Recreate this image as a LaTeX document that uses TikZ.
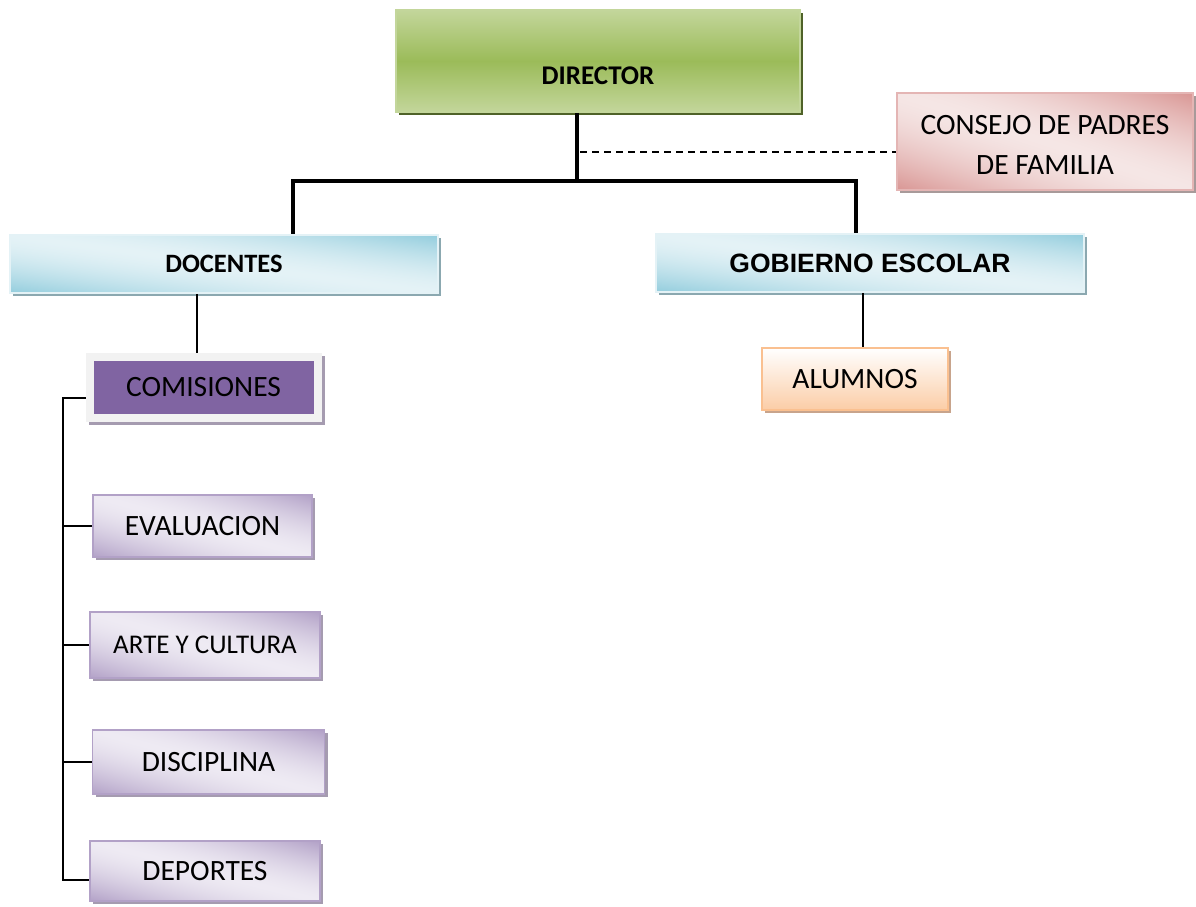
\documentclass[tikz,border=0pt]{standalone}
\usepackage{fontspec}
\setmainfont{Carlito}
\newfontfamily\arialfont{Liberation Sans}
\usetikzlibrary{shadows}
\definecolor{grnA}{HTML}{C3D69B}
\definecolor{grnB}{HTML}{9BBB59}
\definecolor{grnS}{HTML}{4F6228}
\definecolor{bluA}{HTML}{93CDDD}
\definecolor{bluB}{HTML}{E4F2F6}
\definecolor{bluS}{HTML}{8BA8B0}
\definecolor{pnkA}{HTML}{D99694}
\definecolor{pnkB}{HTML}{F5E6E5}
\definecolor{pnkS}{HTML}{A89A9A}
\definecolor{purA}{HTML}{B2A1C7}
\definecolor{purB}{HTML}{EEEAF3}
\definecolor{purS}{HTML}{A59BB0}
\definecolor{purD}{HTML}{8064A2}
\definecolor{frmG}{HTML}{F2F2F2}
\definecolor{pchA}{HTML}{FAC090}
\definecolor{pchS}{HTML}{C8A48C}
% diagonal shadings: dark at bottom-left and top-right corners, light along the other diagonal
\pgfdeclarefunctionalshading{blushade}{\pgfpoint{0bp}{0bp}}{\pgfpoint{100bp}{100bp}}{}{%
  add 100 sub abs 50 div dup 1 gt {pop 1} if 1.6 exp
  dup -0.318 mul 0.894 add exch dup -0.145 mul 0.949 add exch -0.098 mul 0.965 add}
\pgfdeclarefunctionalshading{pnkshade}{\pgfpoint{0bp}{0bp}}{\pgfpoint{100bp}{100bp}}{}{%
  add 100 sub abs 50 div dup 1 gt {pop 1} if 1.6 exp
  dup -0.110 mul 0.961 add exch dup -0.314 mul 0.902 add exch -0.318 mul 0.898 add}
\pgfdeclarefunctionalshading{purshade}{\pgfpoint{0bp}{0bp}}{\pgfpoint{100bp}{100bp}}{}{%
  add 100 sub abs 50 div dup 1 gt {pop 1} if 1.6 exp
  dup -0.235 mul 0.933 add exch dup -0.287 mul 0.918 add exch -0.173 mul 0.953 add}
\begin{document}
\begin{tikzpicture}[x=1pt,y=-1pt,
  base/.style={rectangle, inner sep=0pt, align=center, text=black},
  shad/.style={drop shadow={shadow xshift=3pt, shadow yshift=-3pt, opacity=1, fill=#1}},
  regtext/.style={font=\fontsize{29.5}{34}\selectfont},
  dirbox/.style={base, draw=grnA, line width=1.5pt, top color=grnA, bottom color=grnA, middle color=grnB, shad=grnS},
  bluebox/.style={base, draw=bluB, line width=1.5pt, shade, shading=blushade, shading angle=0, shad=bluS},
  pinkbox/.style={base, draw=pnkA!70, line width=1.5pt, shade, shading=pnkshade, shading angle=0, shad=pnkS},
  purbox/.style={base, draw=purA, line width=1.5pt, shade, shading=purshade, shading angle=0, shad=purS, regtext},
  pchbox/.style={base, draw=pchA, line width=2pt, top color=white, bottom color=pchA!80, shad=pchS, regtext},
  mainline/.style={line width=4pt},
  subline/.style={line width=2pt},
  dashline/.style={line width=1.6pt, dash pattern=on 7pt off 5pt}
]
\useasboundingbox[fill=white] (0,0) rectangle (1196,907);

% Nodes
\node[dirbox, minimum width=404pt, minimum height=102pt] (dir) at (598,61) {};
\node[base, font=\bfseries\fontsize{27}{31}\selectfont] (dirtext) at (598,76) {DIRECTOR};

\node[pinkbox, minimum width=296pt, minimum height=97pt] (cons) at (1045,141.5) {};
\node[base, font=\fontsize{29.5}{40}\selectfont] (constext) at (1045,145) {CONSEJO DE PADRES\\DE FAMILIA};

\node[bluebox, minimum width=428pt, minimum height=58pt, font=\bfseries\fontsize{26.5}{30}\selectfont] (doc) at (224,264) {DOCENTES};
\node[bluebox, minimum width=428pt, minimum height=58pt, font=\arialfont\bfseries\fontsize{26.5}{30}\selectfont] (gob) at (870,263) {GOBIERNO ESCOLAR};

\node[pchbox, minimum width=186pt, minimum height=62pt] (alu) at (855,379) {ALUMNOS};

\node[base, fill=frmG, minimum width=236pt, minimum height=69pt, shad=purS] (comout) at (204,387.5) {};
\node[base, fill=purD, minimum width=220pt, minimum height=53pt, regtext] (com) at (203.5,387.5) {COMISIONES};

\node[purbox, minimum width=219pt, minimum height=62pt] (eva) at (202.5,526) {EVALUACION};
\node[purbox, minimum width=230pt, minimum height=66pt, font=\fontsize{27}{31}\selectfont] (art) at (205,645) {ARTE Y CULTURA};
\node[purbox, minimum width=232pt, minimum height=64pt] (dis) at (208.5,762) {DISCIPLINA};
\node[purbox, minimum width=230pt, minimum height=60pt] (dep) at (205,871) {DEPORTES};

% Coordinates for connector routing
\coordinate (j) at (577,181);
\coordinate (jl) at (293,181);
\coordinate (jr) at (856,181);
\coordinate (dj) at (580,152);
\coordinate (dc) at (197,300);
\coordinate (ga) at (863,300);
\coordinate (lb) at (63,398);
\coordinate (lbend) at (63,880);

% Connectors
\draw[mainline] (j |- dir.south) -- (j);
\draw[mainline, line cap=rect] (jl) -- (jr);
\draw[mainline] (jl) -- (jl |- doc.north);
\draw[mainline] (jr) -- (jr |- gob.north);
\draw[dashline] (dj) -- (dj -| cons.west);
\draw[subline] (dc |- doc.south) -- (dc |- comout.north);
\draw[subline] (ga |- gob.south) -- (ga |- alu.north);
\draw[subline] (comout.west |- lb) -- (lb) -- (lbend) -- (lbend -| dep.west);
\draw[subline] (lb |- eva.west) -- (eva.west);
\draw[subline] (lb |- art.west) -- (art.west);
\draw[subline] (lb |- dis.west) -- (dis.west);
\end{tikzpicture}
\end{document}
